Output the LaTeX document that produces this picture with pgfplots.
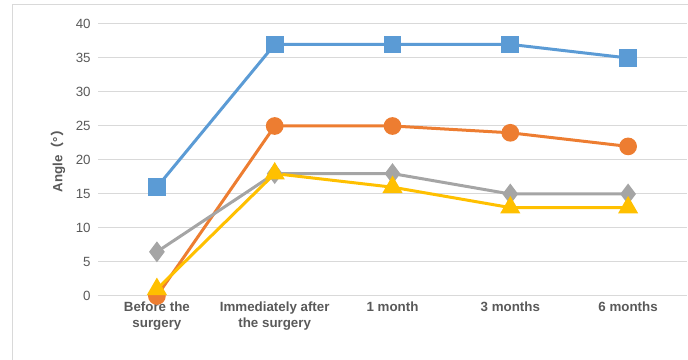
\documentclass[border=0pt]{standalone}
\usepackage{fontspec}
\setmainfont{Liberation Sans}
\newfontfamily\cjk{Noto Sans CJK SC}
\usepackage{pgfplots}
\pgfplotsset{compat=1.18}
\definecolor{cblue}{HTML}{5B9BD5}
\definecolor{corange}{HTML}{ED7D31}
\definecolor{cgray}{HTML}{A5A5A5}
\definecolor{cyellow}{HTML}{FFC000}
\definecolor{gridc}{HTML}{D9D9D9}
\definecolor{txt}{HTML}{595959}
\begin{document}
\begin{tikzpicture}[x=0.75pt,y=0.75pt]
\useasboundingbox (0,0) rectangle (688,360);
\draw[gridc, line width=0.75pt] (12,0) -- (12,355) -- (688,355);
\begin{axis}[
  at={(98*0.75pt,64*0.75pt)}, anchor=south west,
  scale only axis, width=589*0.75pt, height=272*0.75pt,
  xmin=-0.5, xmax=4.5, ymin=0, ymax=40,
  ytick={0,5,...,40},
  xtick={0,1,2,3,4},
  xticklabels={Before the\\surgery, Immediately after\\the surgery, 1 month, 3 months, 6 months},
  xticklabel style={align=center, font=\fontsize{10}{11.5}\selectfont\bfseries, text=txt, yshift=-1pt},
  yticklabel style={font=\fontsize{10}{11}\selectfont, text=txt, xshift=-2pt},
  /pgf/number format/assume math mode=true,
  axis line style={draw=none},
  major tick length=0pt,
  ymajorgrids, grid style={gridc, line width=0.75pt},
  clip=false,
  ylabel={\bfseries Angle{\cjk（}°{\cjk）}},
  ylabel style={font=\fontsize{10}{11}\selectfont, text=txt, at={(-40*0.75pt,138*0.75pt)}, anchor=center, rotate=0},
]
\addplot[cblue, line width=2.25pt, mark=square*, mark size=5.5pt] coordinates {(0,16) (1,37) (2,37) (3,37) (4,35)};
\addplot[corange, line width=2.25pt, mark=*, mark size=5.5pt] coordinates {(0,0) (1,25) (2,25) (3,24) (4,22)};
\addplot[cgray, line width=2.25pt, mark=diamond*, mark size=6pt] coordinates {(0,6.5) (1,18) (2,18) (3,15) (4,15)};
\addplot[cyellow, line width=2.25pt, mark=triangle*, mark size=6.5pt] coordinates {(0,1) (1,18) (2,16) (3,13) (4,13)};
\end{axis}
\end{tikzpicture}
\end{document}
